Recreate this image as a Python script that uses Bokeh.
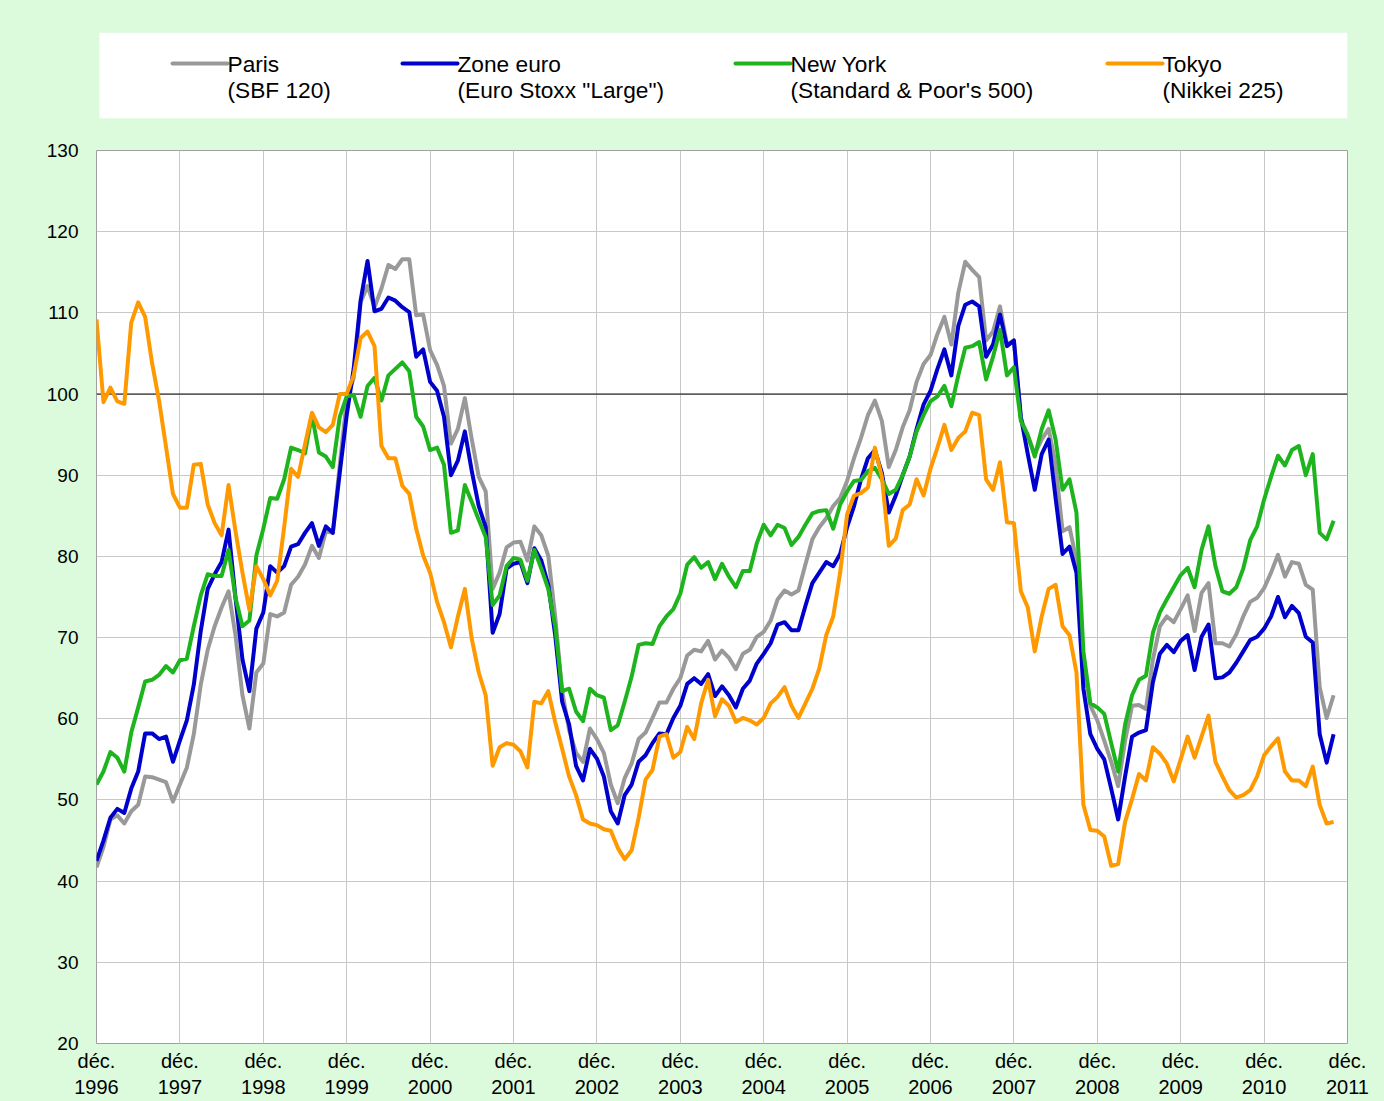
from bokeh.plotting import figure
from bokeh.models import Range1d, FixedTicker, Span, ColumnDataSource
from bokeh.layouts import column
from bokeh.core.properties import value
from bokeh.embed import file_html
from bokeh.resources import INLINE

# Monthly index values, déc. 1996 = first point (one row per year: Dec..Nov)
paris = [
    41.7, 44.2, 47.6, 48.1, 47.1, 48.6, 49.4, 52.9, 52.8, 52.5, 52.2, 49.8,
    51.9, 54.0, 58.1, 64.2, 68.5, 71.4, 73.7, 75.7, 70.3, 62.9, 58.8, 65.7,
    66.8, 72.9, 72.6, 73.1, 76.5, 77.5, 79.0, 81.3, 79.8, 83.1, 82.9, 91.3,
    99.2, 102.0, 111.3, 113.3, 110.7, 113.0, 115.9, 115.4, 116.6, 116.6, 109.7, 109.8,
    105.4, 103.6, 101.0, 93.9, 95.7, 99.5, 94.4, 89.8, 88.0, 76.0, 78.0, 81.1,
    81.7, 81.8, 79.5, 83.7, 82.6, 80.1, 72.6, 63.4, 58.6, 55.8, 54.7, 58.8,
    57.5, 55.8, 51.9, 49.6, 52.7, 54.5, 57.5, 58.3, 60.1, 62.0, 62.0, 63.7,
    65.0, 67.8, 68.5, 68.3, 69.6, 67.3, 68.4, 67.5, 66.1, 68.0, 68.5, 70.1,
    70.7, 72.1, 74.7, 75.8, 75.3, 75.8, 79.0, 82.1, 83.6, 84.7, 86.2, 87.2,
    89.3, 92.1, 94.6, 97.4, 99.2, 96.7, 91.0, 93.1, 95.9, 98.0, 101.5, 103.7,
    104.8, 107.4, 109.5, 106.1, 112.5, 116.3, 115.3, 114.4, 106.6, 107.7, 110.8, 106.1,
    106.6, 96.9, 94.9, 92.6, 94.4, 95.7, 91.3, 83.1, 83.6, 79.5, 66.8, 61.6,
    59.8, 57.3, 54.7, 51.7, 57.3, 61.6, 61.7, 61.2, 67.3, 71.4, 72.6, 71.9,
    73.5, 75.2, 70.8, 75.5, 76.7, 69.3, 69.3, 68.9, 70.4, 72.6, 74.4, 74.9,
    76.1, 78.0, 80.2, 77.5, 79.3, 79.1, 76.5, 75.9, 63.9, 60.1, 62.9,
]
zone_euro = [
    42.5, 45.0, 47.8, 48.9, 48.4, 51.4, 53.5, 58.2, 58.2, 57.5, 57.8, 54.7,
    57.3, 59.8, 64.2, 70.8, 76.0, 77.8, 79.3, 83.3, 74.9, 67.3, 63.4, 71.1,
    73.1, 78.8, 78.0, 78.8, 81.2, 81.5, 82.9, 84.1, 81.3, 83.7, 82.9, 90.3,
    97.4, 103.1, 111.5, 116.4, 110.2, 110.5, 111.9, 111.5, 110.7, 110.1, 104.6, 105.5,
    101.5, 100.4, 97.2, 90.0, 91.8, 95.4, 90.5, 86.2, 83.6, 70.6, 72.9, 78.5,
    79.1, 79.3, 76.7, 81.0, 79.5, 76.5, 70.3, 62.1, 59.3, 54.2, 52.4, 56.3,
    55.1, 52.9, 48.6, 47.1, 50.6, 51.9, 54.7, 55.5, 57.0, 58.2, 58.1, 60.1,
    61.6, 64.3, 65.0, 64.3, 65.5, 62.8, 64.0, 62.9, 61.4, 63.7, 64.7, 66.8,
    68.0, 69.3, 71.6, 71.9, 70.9, 70.9, 73.9, 76.7, 78.0, 79.3, 78.8, 80.3,
    83.6, 86.2, 89.5, 92.1, 93.1, 90.3, 85.4, 87.5, 90.0, 92.3, 95.7, 98.7,
    100.4, 103.1, 105.5, 102.3, 108.4, 111.0, 111.4, 110.8, 104.6, 106.1, 109.8, 105.9,
    106.6, 97.2, 92.6, 88.2, 92.6, 94.4, 87.2, 80.3, 81.2, 78.0, 63.7, 58.1,
    56.3, 55.0, 51.4, 47.6, 52.9, 57.8, 58.3, 58.6, 64.5, 68.0, 69.1, 68.2,
    69.6, 70.3, 66.0, 70.1, 71.6, 65.0, 65.1, 65.7, 66.9, 68.3, 69.7, 70.1,
    71.1, 72.6, 75.0, 72.5, 73.9, 73.0, 70.1, 69.4, 58.1, 54.6, 58.1,
]
new_york = [
    51.9, 53.5, 55.9, 55.2, 53.5, 58.3, 61.4, 64.6, 64.8, 65.4, 66.5, 65.7,
    67.2, 67.4, 71.4, 75.2, 77.8, 77.6, 77.6, 80.8, 74.9, 71.4, 72.1, 80.1,
    83.4, 87.2, 87.1, 89.5, 93.4, 93.1, 92.7, 97.4, 92.8, 92.3, 91.0, 97.2,
    99.7, 99.9, 97.2, 101.0, 102.0, 99.2, 102.3, 103.1, 103.9, 102.8, 97.2, 96.0,
    93.1, 93.4, 91.3, 82.9, 83.2, 88.8, 86.7, 84.5, 82.4, 74.0, 75.2, 78.8,
    79.8, 79.6, 77.0, 80.8, 78.5, 76.0, 71.4, 63.4, 63.7, 60.9, 59.7, 63.7,
    62.9, 62.6, 58.6, 59.2, 62.1, 65.2, 69.1, 69.3, 69.2, 71.4, 72.6, 73.5,
    75.4, 79.0, 79.9, 78.6, 79.3, 77.2, 79.1, 77.5, 76.2, 78.2, 78.2, 81.6,
    83.9, 82.6, 83.9, 83.5, 81.4, 82.4, 83.9, 85.3, 85.6, 85.7, 83.4, 86.4,
    88.0, 89.3, 89.4, 90.5, 90.9, 89.5, 87.7, 88.2, 90.0, 92.3, 95.4, 97.4,
    99.1, 99.7, 101.0, 98.5, 102.3, 105.7, 105.9, 106.4, 101.8, 104.6, 107.9, 102.3,
    103.3, 96.7, 94.9, 92.3, 95.7, 98.0, 94.4, 88.2, 89.5, 85.4, 68.3, 61.9,
    61.4, 60.6, 57.0, 53.5, 59.3, 62.9, 64.8, 65.3, 70.6, 73.1, 74.7, 76.2,
    77.7, 78.6, 76.2, 80.8, 83.7, 78.8, 75.7, 75.4, 76.2, 78.5, 82.0, 83.7,
    87.0, 89.8, 92.4, 91.2, 93.1, 93.6, 90.0, 92.6, 82.9, 82.1, 84.4,
]
tokyo = [
    109.2, 99.0, 100.8, 99.1, 98.8, 108.8, 111.3, 109.5, 103.8, 99.2, 93.5, 87.7,
    86.0, 86.0, 91.3, 91.4, 86.4, 84.1, 82.6, 88.8, 83.1, 78.0, 73.4, 78.8,
    77.2, 75.2, 77.0, 83.6, 90.8, 89.8, 93.8, 97.7, 95.9, 95.3, 96.2, 100.0,
    100.0, 102.3, 106.9, 107.7, 105.9, 93.6, 92.1, 92.1, 88.7, 87.7, 83.4, 80.1,
    78.0, 74.4, 71.9, 68.8, 72.6, 76.0, 69.8, 65.7, 62.9, 54.2, 56.5, 57.0,
    56.8, 56.0, 54.0, 62.1, 61.9, 63.4, 59.6, 56.3, 52.9, 50.6, 47.6, 47.1,
    46.9, 46.4, 46.2, 44.1, 42.7, 43.8, 47.8, 52.5, 53.7, 57.8, 58.1, 55.2,
    55.9, 59.0, 57.5, 61.9, 64.8, 60.3, 62.4, 61.6, 59.6, 60.1, 59.8, 59.3,
    60.1, 61.9, 62.7, 63.9, 61.6, 60.1, 61.9, 63.7, 66.2, 70.3, 72.6, 78.0,
    85.2, 87.5, 87.8, 88.5, 93.4, 89.8, 81.3, 82.2, 85.7, 86.4, 89.5, 87.5,
    90.8, 93.4, 96.2, 93.1, 94.6, 95.4, 97.7, 97.4, 89.5, 88.2, 91.6, 84.2,
    84.1, 75.7, 73.7, 68.3, 72.6, 76.0, 76.5, 71.4, 70.3, 65.7, 49.4, 46.3,
    46.2, 45.5, 41.9, 42.1, 47.3, 50.1, 53.2, 52.4, 56.5, 55.7, 54.5, 52.3,
    55.0, 57.8, 55.2, 57.8, 60.4, 54.7, 52.9, 51.2, 50.3, 50.6, 51.2, 52.9,
    55.5, 56.6, 57.6, 53.5, 52.4, 52.4, 51.7, 54.1, 49.4, 47.1, 47.3,
]

years = list(range(1996, 2012))
tick_months = [12 * k for k in range(len(years))]
tick_labels = ["déc.\n%d" % y for y in years]
y_ticks = list(range(20, 131, 10))

legend_line1 = ["Paris", "Zone euro", "New York", "Tokyo"]
legend_line2 = ["(SBF 120)", '(Euro Stoxx "Large")', "(Standard & Poor's 500)", "(Nikkei 225)"]
series_keys = ["paris", "zone_euro", "new_york", "tokyo"]
colors = ["#999999", "#0000CC", "#1EB41E", "#FF9900"]

FONT = "Liberation Sans"
BG = "#DCFADC"
W = 1384
LEFT, RIGHT = 96, 37

n = len(paris)
src = ColumnDataSource(dict(month=list(range(n)), paris=paris[:n], zone_euro=zone_euro[:n],
                            new_york=new_york[:n], tokyo=tokyo[:n]))

# ---------------- legend strip (white box on green) ----------------
frame_w = W - LEFT - RIGHT
leg = figure(width=W, height=138, output_backend="svg", toolbar_location=None,
             x_range=Range1d(0, frame_w), y_range=Range1d(0, 86),
             x_axis_type=None, y_axis_type=None,
             min_border_left=LEFT, min_border_right=RIGHT, min_border_top=32, min_border_bottom=20,
             background_fill_color=BG, border_fill_color=BG)
leg.outline_line_color = None
leg.grid.visible = False
leg.quad(left=[3], right=[frame_w], bottom=[0], top=[86], fill_color="white", line_color=None)
swatch_x = [76, 306, 639, 1011]
for t1, t2, col, sx in zip(legend_line1, legend_line2, colors, swatch_x):
    leg.segment(x0=[sx], y0=[55], x1=[sx + 55], y1=[55], line_color=col, line_width=4,
                line_cap="round")
    leg.text(x=[sx + 55, sx + 55], y=[55, 29], text=[t1, t2],
             text_font=value(FONT), text_font_size="22.7px", text_color="black",
             text_baseline="middle", text_align="left")

# ---------------- main chart ----------------
p = figure(width=W, height=963, output_backend="svg", toolbar_location=None,
           x_range=Range1d(0, 180), y_range=Range1d(20, 130),
           min_border_left=LEFT, min_border_right=RIGHT, min_border_top=12, min_border_bottom=58,
           background_fill_color="white", border_fill_color=BG)
p.outline_line_color = "#A0A0A0"
p.outline_line_width = 1

for ax in (p.xaxis, p.yaxis):
    ax.axis_line_color = None
    ax.major_tick_line_color = None
    ax.minor_tick_line_color = None
    ax.major_tick_out = 0
    ax.major_tick_in = 0
    ax.major_label_text_font = FONT
    ax.major_label_text_color = "black"

p.xaxis.ticker = FixedTicker(ticks=tick_months)
p.xaxis.major_label_overrides = {m: t for m, t in zip(tick_months, tick_labels)}
p.xaxis.major_label_text_font_size = "20px"
p.xaxis.major_label_standoff = 6
p.yaxis.ticker = FixedTicker(ticks=y_ticks)
p.yaxis.major_label_text_font_size = "19px"
p.yaxis.major_label_standoff = 18

p.xgrid.ticker = FixedTicker(ticks=tick_months)
p.ygrid.ticker = FixedTicker(ticks=y_ticks)
for g in (p.xgrid, p.ygrid):
    g.grid_line_color = "#C8C8C8"
    g.grid_line_width = 1

p.add_layout(Span(location=100, dimension="width", line_color="black", line_width=1, level="underlay"))

for key, col in zip(series_keys, colors):
    p.line(x="month", y=key, source=src, line_color=col, line_width=4, line_join="round")

layout = column(leg, p, spacing=0, styles={"background-color": BG})
open("out.html", "w").write(file_html(layout, INLINE))
